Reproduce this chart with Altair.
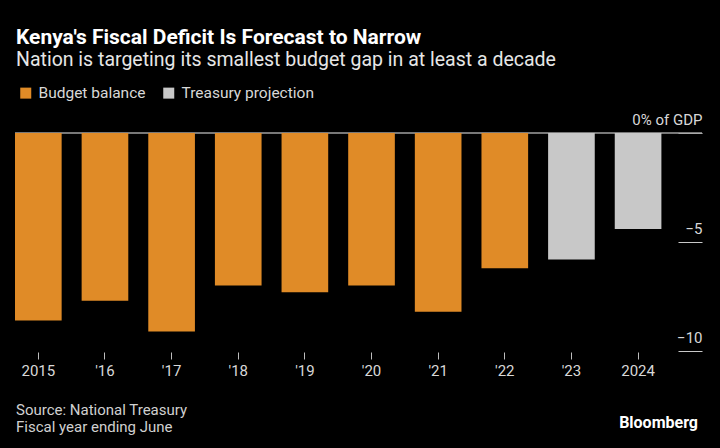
import altair as alt
import pandas as pd

years = ["2015", "'16", "'17", "'18", "'19", "'20", "'21", "'22", "'23", "2024"]
values = [-8.6, -7.7, -9.1, -7.0, -7.3, -7.0, -8.2, -6.2, -5.8, -4.4]
series = ["Budget balance"] * 8 + ["Treasury projection"] * 2
series_names = ["Budget balance", "Treasury projection"]
series_colors = ["#E08B27", "#C8C8C8"]
y_ticks = [0, -5, -10]

title_text = "Kenya's Fiscal Deficit Is Forecast to Narrow"
subtitle_text = "Nation is targeting its smallest budget gap in at least a decade"
source_lines = ["Source: National Treasury", "Fiscal year ending June"]
brand = "Bloomberg"

FONT = "Roboto"

df = pd.DataFrame({"year": years, "value": values, "series": series})

zero = alt.Chart(pd.DataFrame({"y": [0]})).mark_rule(color="#a0a0a0", strokeWidth=1.5).encode(
    y=alt.Y("y:Q")
)

bars = alt.Chart(df).mark_bar().encode(
    x=alt.X(
        "year:N",
        sort=years,
        scale=alt.Scale(range=[0, 646.4], paddingInner=0.3, paddingOuter=0),
        axis=alt.Axis(
            title=None, domain=False, tickSize=7, offset=1, labelPadding=4,
            labelAngle=0, labelFontSize=15, labelColor="#d8d8d8", tickColor="#bdbdbd",
            labelFont=FONT,
        ),
    ),
    y=alt.Y(
        "value:Q",
        scale=alt.Scale(domain=[-10, 0], nice=False),
        axis=alt.Axis(
            orient="right", values=y_ticks, offset=-24, tickSize=24, domain=False,
            grid=False, labelAlign="right", labelPadding=0, labelOffset=-9,
            labelBaseline="alphabetic", title=None, tickColor="#c8c8c8",
            labelColor="#d8d8d8", labelFontSize=15, labelFont=FONT, labelOverlap=False,
            labelFlush=False,
            labelExpr="datum.value == 0 ? '0% of GDP' : datum.label",
        ),
    ),
    color=alt.Color(
        "series:N",
        scale=alt.Scale(domain=series_names, range=series_colors),
        legend=alt.Legend(
            orient="none", legendX=3, legendY=-48, direction="horizontal", title=None,
            symbolType="square", symbolSize=121, labelFontSize=15.5, labelColor="#d8d8d8",
            columnPadding=15, labelOffset=5, symbolStrokeWidth=0, labelFont=FONT,
        ),
    ),
)

src1 = alt.Chart(pd.DataFrame({"t": [source_lines[0]]})).mark_text(
    align="left", baseline="alphabetic", fontSize=15, color="#d0d0d0", font=FONT
).encode(text="t:N", x=alt.value(1), y=alt.value(281.5))
src2 = alt.Chart(pd.DataFrame({"t": [source_lines[1]]})).mark_text(
    align="left", baseline="alphabetic", fontSize=15, color="#d0d0d0", font=FONT
).encode(text="t:N", x=alt.value(1), y=alt.value(298.5))
brand_t = alt.Chart(pd.DataFrame({"t": [brand]})).mark_text(
    align="right", baseline="alphabetic", fontSize=16, fontWeight="bold", color="#ffffff", font=FONT
).encode(text="t:N", x=alt.value(683), y=alt.value(295.3))

chart = alt.layer(zero, bars, src1, src2, brand_t).properties(
    width=687,
    height=218,
    autosize=alt.AutoSizeParams(type="none"),
    padding={"left": 15, "top": 133, "right": 18, "bottom": 97},
    title=alt.TitleParams(
        text=title_text, subtitle=subtitle_text, anchor="start", frame="group",
        fontSize=21, fontWeight="bold", color="#ffffff", font=FONT,
        subtitleFontSize=19.5, subtitleColor="#e6e6e6", subtitleFont=FONT,
        subtitlePadding=3, offset=16, dx=1,
    ),
).configure(background="#000000").configure_view(stroke=None)

chart.save("out.html", embed_options={"renderer": "svg", "actions": False})
